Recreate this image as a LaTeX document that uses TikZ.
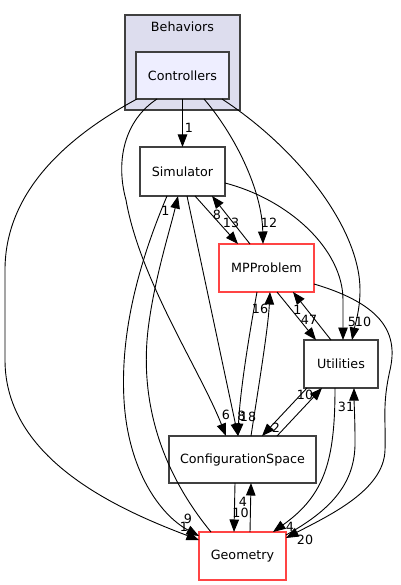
\documentclass[tikz,border=0pt]{standalone}
\usepackage{fontspec}
\setmainfont{DejaVu Sans}
\usetikzlibrary{arrows.meta}
\definecolor{bordergray}{HTML}{404040}
\definecolor{clusterfill}{HTML}{DDDDEE}
\definecolor{dirfill}{HTML}{EEEEFF}
\definecolor{redline}{HTML}{FF4444}
\begin{document}
\begin{tikzpicture}[x=1pt,y=-1pt,
  font=\fontsize{12.7}{15}\selectfont,
  box/.style={draw=bordergray,line width=1.4pt,fill=white,inner sep=0pt,outer sep=0pt,rectangle},
  redbox/.style={box,draw=redline},
  edge/.style={draw=black,line width=0.9pt,-{Triangle[length=12.5pt,width=9.5pt]}},
  lbl/.style={inner sep=0pt}]
\useasboundingbox[fill=white] (0,0) rectangle (400,585);
% nodes
\node[box,fill=clusterfill,minimum width=115,minimum height=95] (behaviors) at (182.5,62.5) {};
\node[lbl] (behlabel) at (182.5,27) {Behaviors};
\node[box,fill=dirfill,minimum width=93,minimum height=47] (ctrl) at (182.5,75.5) {Controllers};
\node[box,minimum width=85,minimum height=49] (sim) at (182.5,171.5) {Simulator};
\node[redbox,minimum width=95,minimum height=48] (mpp) at (266.5,268) {MPProblem};
\node[box,minimum width=74,minimum height=48] (util) at (341,364) {Utilities};
\node[box,minimum width=147,minimum height=47] (cs) at (242.5,459.5) {ConfigurationSpace};
\node[redbox,minimum width=87,minimum height=48] (geom) at (242.5,556) {Geometry};
% edges
\draw[edge] (ctrl.south) -- (sim.north);
\node[lbl] (l1) at (189,128) {1};
\draw[edge] ([xshift=-45.5]ctrl.south) .. controls (70,135) and (5,190) .. (5,270) -- (5,360) .. controls (5,460) and (120,510) .. ([yshift=16]geom.west);
\node[lbl] (l2) at (184,527) {1};
\draw[edge] ([xshift=-25.5]ctrl.south) .. controls (125,120) and (115,160) .. (126,200) .. controls (140,280) and (200,370) .. ([xshift=-16.5]cs.north);
\node[lbl] (l3) at (226,415) {6};
\draw[edge] ([xshift=21.5]ctrl.south) .. controls (235,135) and (262,190) .. ([xshift=-3.5]mpp.north);
\node[lbl] (l4) at (269,223) {12};
\draw[edge] ([xshift=39.5]ctrl.south) .. controls (300,150) and (360,230) .. (360,290) .. controls (360,310) and (355,325) .. ([xshift=11]util.north);
\node[lbl] (l5) at (363,322) {10};
\draw[edge] ([xshift=12.5]sim.south) -- ([xshift=-28.5]mpp.north);
\node[lbl] (l6) at (231,223) {13};
\draw[edge] ([xshift=-16.5]mpp.north) -- ([xshift=29.5]sim.south);
\node[lbl] (l7) at (217,215) {8};
\draw[edge] ([yshift=-11.5]sim.east) .. controls (290,200) and (343,250) .. (343,300) -- ([xshift=2]util.north);
\node[lbl] (l8) at (352,322) {5};
\draw[edge] ([xshift=4.5]sim.south) -- ([xshift=-4.5]cs.north);
\node[lbl] (l9) at (241.5,415.5) {8};
\draw[edge] ([xshift=-9.5]mpp.south) .. controls (250,330) and (240,390) .. ([xshift=-4.5]cs.north);
\node[lbl] (l10) at (248,416.5) {18};
\draw[edge] ([xshift=8.5]cs.north) .. controls (258,390) and (268,330) .. ([xshift=3.5]mpp.south);
\node[lbl] (l11) at (260,309) {16};
\draw[edge] ([xshift=-15.5]sim.south) .. controls (140,260) and (120,330) .. (124,400) .. controls (128,470) and (160,515) .. ([yshift=20]geom.west);
\node[lbl] (l12) at (188,519) {9};
\draw[edge] ([xshift=-31.5]geom.north) .. controls (160,470) and (140,400) .. (148,330) .. controls (154,280) and (170,230) .. ([xshift=-4.5]sim.south);
\node[lbl] (l13) at (165.5,211) {1};
\draw[edge] ([xshift=10.5]mpp.south) -- ([xshift=-25]util.north);
\node[lbl] (l14) at (309,320) {47};
\draw[edge] ([xshift=-10]util.north) -- ([xshift=26.5]mpp.south);
\node[lbl] (l15) at (297.5,310) {1};
\draw[edge] ([yshift=-16]mpp.east) .. controls (385,305) and (398,335) .. (390,370) .. controls (382,405) and (386,420) .. (385,450) .. controls (384,490) and (330,515) .. ([yshift=18]geom.east);
\node[lbl] (l16) at (305,540) {20};
\draw[edge] ([xshift=-34]util.south) -- ([xshift=19.5]cs.north);
\node[lbl] (l17) at (276,428) {2};
\draw[edge] ([xshift=34.5]cs.north) -- ([xshift=-19]util.south);
\node[lbl] (l18) at (305,395) {10};
\draw[edge] ([xshift=-6]util.south) .. controls (335,460) and (325,495) .. ([xshift=30.5]geom.north);
\node[lbl] (l19) at (290,527) {4};
\draw[edge] ([yshift=21]geom.east) .. controls (335,508) and (356,480) .. (355,440) .. controls (355,420) and (354,400) .. ([xshift=13]util.south);
\node[lbl] (l20) at (346,407) {31};
\draw[edge] ([xshift=-7.5]cs.south) -- ([xshift=-8.5]geom.north);
\node[lbl] (l21) at (240.5,512.5) {10};
\draw[edge] ([xshift=7.5]geom.north) -- ([xshift=8.5]cs.south);
\node[lbl] (l22) at (243,502) {4};
\end{tikzpicture}
\end{document}
